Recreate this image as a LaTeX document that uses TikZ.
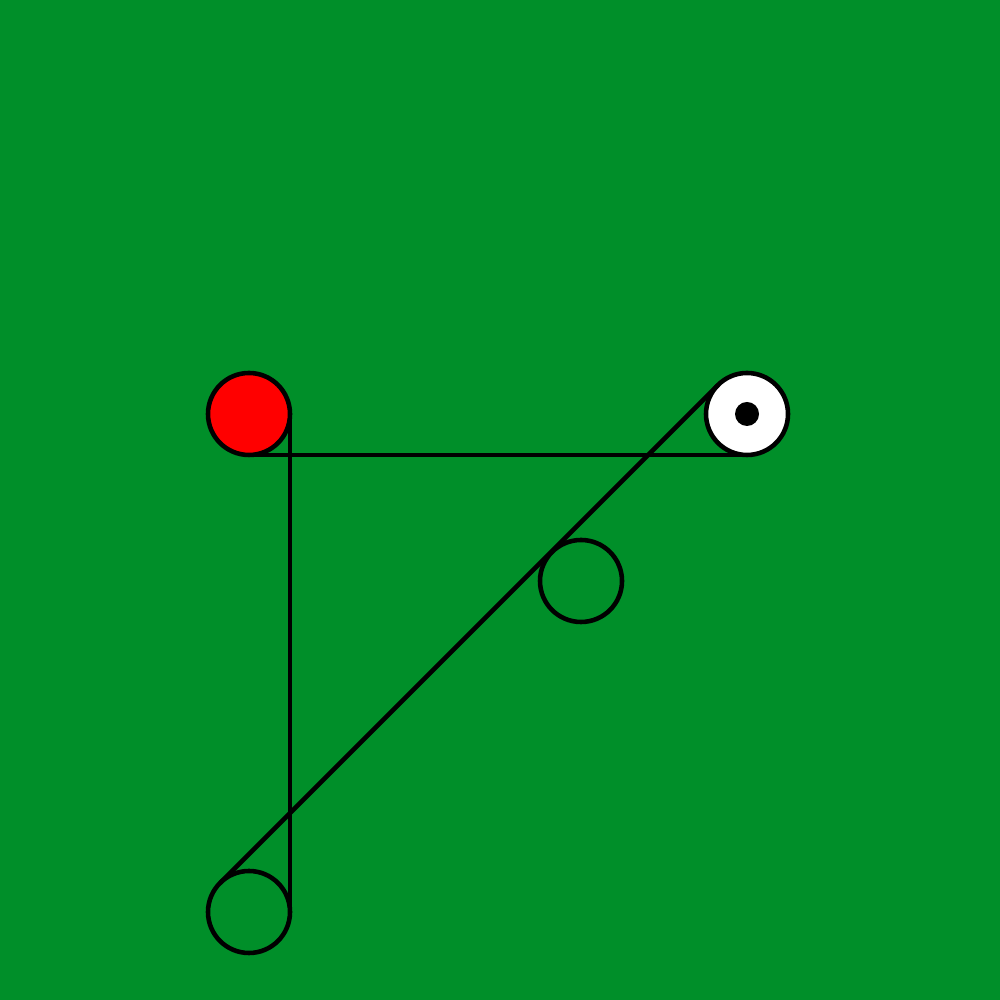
\documentclass[tikz,border=0pt]{standalone}
\definecolor{tapis}{RGB}{0,143,41}
\begin{document}
\begin{tikzpicture}
    [  every node/.style={},%
    bille/.style={draw,circle,minimum size=0.82cm,inner sep=0pt,%
      outer sep=0pt,line width=1.3pt},
    point/.style={circle,fill=black,minimum size=0.24cm,inner sep=0pt}]
    \fill[tapis] (0,0) rectangle (10,10);
    \useasboundingbox (0,0) rectangle (10,10);
    \node[bille,fill=red] (R) at (2.49,5.86) {};
    \node[bille,fill=white] (B) at (7.47,5.86) {};
    \node[point] (P) at (B) {};
    \node[bille] (M) at (5.81,4.19) {};
    \node[bille] (A) at (2.49,0.88) {};

    \draw[line width=1.3pt] (R.east) -- (A.east) ;
    \draw[line width=1.3pt] (R.south) -- (B.south) ;
    \draw[line width=1.3pt] (A.north west) -- (B.north west) ;
  \end{tikzpicture}
\end{document}
